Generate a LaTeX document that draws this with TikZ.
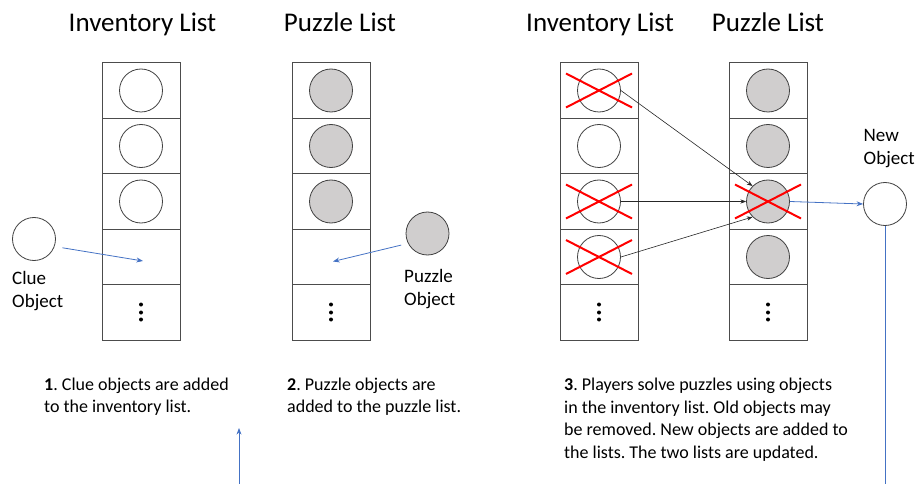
\documentclass[tikz,border=0pt]{standalone}
\usepackage{fontspec}
\setmainfont{Carlito}
\frenchspacing
\usetikzlibrary{positioning,shapes.misc,arrows.meta}
\definecolor{flowblue}{HTML}{4472C4}
\definecolor{puzzlegray}{HTML}{D0CECE}

\begin{document}
\begin{tikzpicture}
            [%%%%%%%%%%%%%%%%%%%%%%%%%%%%%%%%%%%%%%%%%%%%%%%%%%%%%%%%%%
                x=1pt,y=-1pt,node distance=0pt,>=Stealth,
                cell/.style={draw=black!70,line width=0.9pt,outer sep=0pt,
                             inner sep=0pt,minimum width=78pt,minimum height=55.5pt},
                clue/.style={circle,draw=black!75,fill=white,line width=0.8pt,
                             inner sep=0pt,minimum size=43pt},
                puzzle/.style={clue,fill=puzzlegray},
                crossed/.style={cross out,draw=red,line width=2pt,inner sep=0pt,
                                minimum width=64pt,minimum height=32pt},
                title/.style={font=\fontsize{27}{32}\selectfont,inner sep=0pt,anchor=base},
                objlabel/.style={font=\fontsize{19}{23}\selectfont,align=left,
                                 inner sep=0pt,anchor=base west},
                caption/.style={font=\fontsize{18}{22.5}\selectfont,align=left,
                                inner sep=0pt,anchor=base west},
                flow/.style={->,flowblue,line width=0.8pt},
                useline/.style={->,black!85,line width=0.6pt}
            ]%%%%%%%%%%%%%%%%%%%%%%%%%%%%%%%%%%%%%%%%%%%%%%%%%%%%%%%%%%
            \useasboundingbox (0,0) rectangle (919,484);

            % headings
            \node[title] (inv1) at (142.5,32) {Inventory List};
            \node[title] (puz1) at (340,32) {Puzzle List};
            \node[title] (inv2) at (600,32) {Inventory List};
            \node[title] (puz2) at (768,32) {Puzzle List};

            % the four lists, five slots each
            \foreach \col/\x in {a/141,b/331,c/599,d/768}{
                \node[cell] (\col1) at (\x,90.5) {};
                \node[cell] (\col2) [below=of \col1] {};
                \node[cell] (\col3) [below=of \col2] {};
                \node[cell] (\col4) [below=of \col3] {};
                \node[cell] (\col5) [below=of \col4] {};
                \foreach \dy in {-8,0,7}
                    \fill ([yshift=-\dy]\col5.center) circle (2);
            }

            % objects held in the lists
            \node[clue] (oa1) at (a1) {};
            \node[clue] (oa2) at (a2) {};
            \node[clue] (oa3) at (a3) {};
            \node[puzzle] (ob1) at (b1) {};
            \node[puzzle] (ob2) at (b2) {};
            \node[puzzle] (ob3) at (b3) {};
            \node[clue] (oc1) at (c1) {};
            \node[clue] (oc2) at (c2) {};
            \node[clue] (oc3) at (c3) {};
            \node[clue] (oc4) at (c4) {};
            \node[puzzle] (od1) at (d1) {};
            \node[puzzle] (od2) at (d2) {};
            \node[puzzle] (od3) at (d3) {};
            \node[puzzle] (od4) at (d4) {};

            % removed objects
            \node[crossed] (xc1) at (oc1) {};
            \node[crossed] (xc3) at (oc3) {};
            \node[crossed] (xc4) at (oc4) {};
            \node[crossed] (xd3) at (od3) {};

            % loose objects (labels sit on the baseline of their last line)
            \node[clue] (clue) at (34,239) {};
            \node[objlabel] (cluetext) at (12,307) {Clue\\Object};
            \node[puzzle] (puzzleobj) at (427.5,233.5) {};
            \node[objlabel] (puzzletext) at (404,305) {Puzzle\\Object};
            \node[clue] (newobj) at (885,204) {};
            \node[objlabel] (newtext) at (863.5,164.5) {New\\Object};

            \coordinate (newend) at (885,484);
            \coordinate (upfoot) at (239,484);
            \coordinate (uptip) at (239,428);

            \draw [flow,shorten <=8pt] (clue.-20) -- ([shift={(2,4)}]a4.center);
            \draw [flow,shorten <=7pt] (puzzleobj.207) -- ([shift={(2,4.5)}]b4.center);
            \draw [useline] (oc1.east) -- (od3.north west);
            \draw [useline] (oc3.east) -- (od3.west);
            \draw [useline] (oc4.east) -- (od3.south west);
            \draw [flow] (od3.east) -- (newobj.west);
            \draw [flowblue,line width=0.8pt] (newobj.south) -- (newend);
            \draw [flow] (upfoot) -- (uptip);

            % steps
            \node[caption] (step1) at (44,412.5) {\textbf{1}. Clue objects are added\\to the inventory list.};
            \node[caption] (step2) at (287,412.5) {\textbf{2}. Puzzle objects are\\added to the puzzle list.};
            \node[caption] (step3) at (564,458) {\textbf{3}. Players solve puzzles using objects\\in the inventory list. Old objects may\\be removed. New objects are added to\\the lists. The two lists are updated.};
        \end{tikzpicture}
\end{document}
